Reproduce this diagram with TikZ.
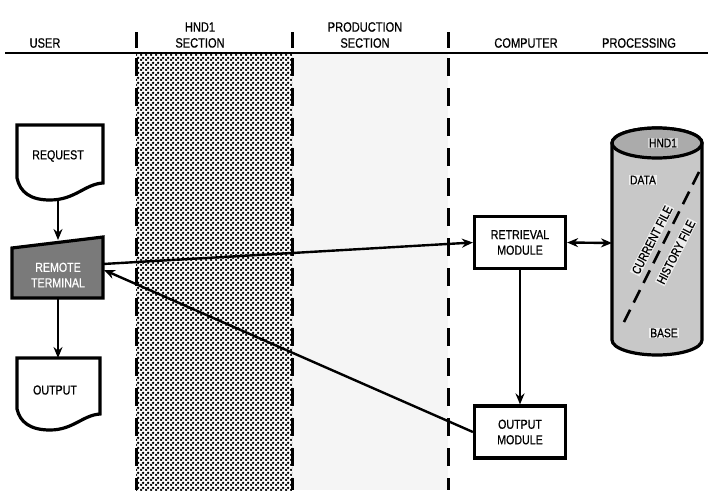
\documentclass[tikz,border=0pt]{standalone}
\usepackage{fontspec}
\setmainfont[FakeStretch=0.82,FakeBold=0.6]{Liberation Sans}
\usetikzlibrary{arrows.meta,patterns,calc}
\pgfdeclarepatternformonly{hnddots}{\pgfqpoint{0pt}{0pt}}{\pgfqpoint{5pt}{5pt}}{\pgfqpoint{5pt}{5pt}}{%
  \pgfpathcircle{\pgfqpoint{1.25pt}{1.25pt}}{1.6pt}%
  \pgfpathcircle{\pgfqpoint{3.75pt}{3.75pt}}{1.6pt}%
  \pgfusepath{fill}}
\definecolor{termgray}{HTML}{7A7A7A}
\definecolor{cylgray}{HTML}{C8C8C8}
\definecolor{cyltop}{HTML}{ABABAB}
\begin{document}
\begin{tikzpicture}[x=1pt,y=-1pt,
  hdr/.style={font=\fontsize{13.5}{16}\selectfont, align=center, inner sep=0pt},
  lbl/.style={font=\fontsize{13}{15.5}\selectfont, align=center, inner sep=0pt},
  modbox/.style={draw, line width=3.2pt, minimum width=91pt, minimum height=52pt, fill=white, lbl},
  arr/.style={line width=2.4pt, -{Stealth[length=11pt,width=9pt]}},
  sepline/.style={line width=3pt, dash pattern=on 18pt off 12pt},
  shapeline/.style={line width=3.2pt},
  cyllbl/.style={font=\fontsize{12.5}{14}\selectfont, fill=white!70!cylgray, inner sep=1pt}]
\useasboundingbox (0,0) rectangle (708,490);
% section backgrounds
\fill[gray!8] (292,53) rectangle (448,490);
\fill[white] (136,53) rectangle (292,490);
\fill[pattern=hnddots, pattern color=black] (136,53) rectangle (292,490);
% header
\draw[line width=2.6pt] (5,53) -- (708,53);
\foreach \x in {136,292,448} {
  \draw[line width=3pt] (\x,32) -- (\x,48);
  \draw[sepline] (\x,58) -- (\x,490);
}
\node[hdr] (huser) at (45,43) {USER};
\node[hdr] (hhnd) at (200,35) {HND1\\SECTION};
\node[hdr] (hprod) at (365,35) {PRODUCTION\\SECTION};
\node[hdr] (hcomp) at (526,43) {COMPUTER};
\node[hdr] (hproc) at (639,43) {PROCESSING};
% request document
\draw[shapeline, fill=white] (17,125) -- (103,125) -- (103,183)
  .. controls (85,184) and (75,200) .. (50,200)
  .. controls (30,200) and (20,192) .. (17,178) -- cycle;
\node[lbl] (req) at (58,156) {REQUEST};
\coordinate (reqb) at (58,200);
% remote terminal
\draw[shapeline, fill=termgray] (12,248) -- (103,237) -- (103,298) -- (12,298) -- cycle;
\node[lbl, text=white] (term) at (58,275) {REMOTE\\TERMINAL};
\coordinate (termT) at (58,240);
\coordinate (termB) at (58,298);
\coordinate (termR) at (103,264);
\coordinate (termR2) at (104,270);
% output document
\draw[shapeline, fill=white] (17,358) -- (100,358) -- (100,414)
  .. controls (83,415) and (73,430) .. (50,430)
  .. controls (30,430) and (20,422) .. (17,409) -- cycle;
\node[lbl] (outd) at (55,390) {OUTPUT};
\coordinate (outT) at (58,358);
% modules
\node[modbox] (ret) at (520,242.5) {RETRIEVAL\\MODULE};
\node[modbox] (outm) at (520,432) {OUTPUT\\MODULE};
% cylinder
\draw[shapeline, fill=cylgray] (612,143) -- (612,340)
  arc[start angle=180, end angle=360, x radius=45pt, y radius=15pt]
  -- (702,143)
  arc[start angle=0, end angle=180, x radius=45pt, y radius=15pt] -- cycle;
\draw[shapeline, fill=cyltop] (657,143) ellipse [x radius=45pt, y radius=15pt];
\coordinate (cyl) at (612,243);
\coordinate (dtop) at (699,172);
\coordinate (dbot) at (624,322);
\draw[line width=2.6pt, dash pattern=on 14pt off 8pt] (dtop) -- (dbot);
\node[cyllbl, fill=cyltop!50!white] (chnd) at (663,143) {HND1};
\node[cyllbl] (cdata) at (643,180) {DATA};
\node[cyllbl] (cbase) at (664,333) {BASE};
\node[cyllbl, rotate=63] (ccur) at (652,240) {CURRENT FILE};
\node[cyllbl, rotate=63] (chist) at (676,252) {HISTORY FILE};
% connectors
\draw[arr] (reqb) -- (termT);
\draw[arr] (termB) -- (outT);
\draw[arr] (termR) -- (ret.west);
\draw[arr] (outm.west) -- (termR2);
\draw[arr] (ret.south) -- (outm.north);
\draw[line width=2.4pt, {Stealth[length=11pt,width=9pt]}-{Stealth[length=11pt,width=9pt]}] (ret.east) -- (cyl);
\end{tikzpicture}
\end{document}
